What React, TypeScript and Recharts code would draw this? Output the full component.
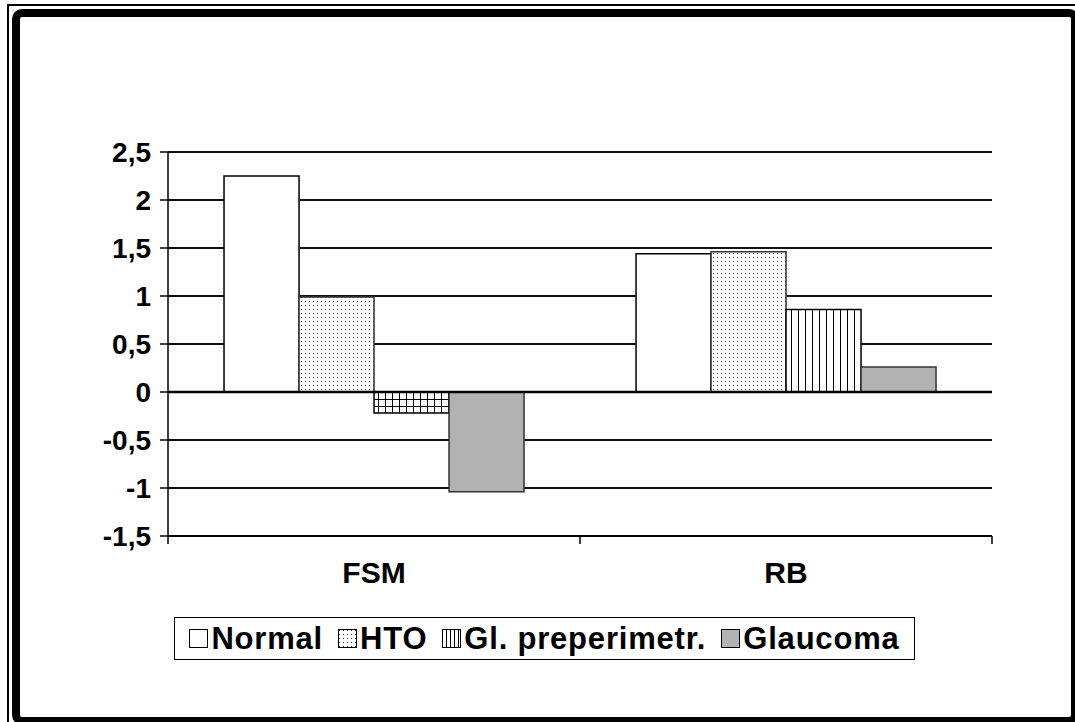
import React from "react";
import {
  Bar,
  BarChart,
  CartesianGrid,
  Cell,
  Legend,
  ReferenceLine,
  XAxis,
  YAxis,
} from "recharts";

const categories = ["FSM", "RB"];
const normal = [2.25, 1.44];
const hto = [0.99, 1.46];
const glPreperimetr = [-0.22, 0.86];
const glaucoma = [-1.04, 0.26];
const yTicks = [-1.5, -1, -0.5, 0, 0.5, 1, 1.5, 2, 2.5];

const WIDTH = 1075;
const HEIGHT = 722;
const PLOT_LEFT = 168;
const PLOT_RIGHT = 992;
const PLOT_TOP = 152;
const PLOT_BOTTOM = 536;
const Y_AXIS_W = 80;
const X_AXIS_H = 60;
const FONT = "'Liberation Sans', Arial, Helvetica, sans-serif";

const data = categories.map((name, i) => ({
  name,
  normal: normal[i],
  hto: hto[i],
  glPre: glPreperimetr[i],
  glaucoma: glaucoma[i],
}));

const series = [
  { key: "normal", label: "Normal", fill: "#ffffff", stroke: "#000" },
  { key: "hto", label: "HTO", fill: "url(#dots)", stroke: "#333" },
  { key: "glPre", label: "Gl. preperimetr.", fill: "url(#vlines)", stroke: "#000" },
  { key: "glaucoma", label: "Glaucoma", fill: "#b2b2b2", stroke: "#333" },
];

const fmt = (v: number) => String(v).replace(".", ",");

// category labels plus the small marks at the band boundaries
function CategoryTick(props: any) {
  const { x, y, payload, index } = props;
  const half = (PLOT_RIGHT - PLOT_LEFT) / categories.length / 2;
  const last = index === categories.length - 1;
  return (
    <g>
      <line x1={x - half} x2={x - half} y1={y} y2={y + 8} stroke="#000" strokeWidth={1.5} />
      {last && (
        <line x1={x + half} x2={x + half} y1={y} y2={y + 8} stroke="#000" strokeWidth={1.5} />
      )}
      <text
        x={x}
        y={y + 47}
        textAnchor="middle"
        fontFamily={FONT}
        fontWeight="bold"
        fontSize={30}
        fill="#000"
      >
        {payload.value}
      </text>
    </g>
  );
}

function LegendIcon({ fill }: { fill: string }) {
  return (
    <svg width={19} height={19} style={{ display: "block" }}>
      <rect x={0.5} y={0.5} width={18} height={18} fill={fill} stroke="#000" strokeWidth={1} />
    </svg>
  );
}

function LegendBox() {
  return (
    <div
      style={{
        boxSizing: "border-box",
        width: "100%",
        height: "100%",
        border: "1.5px solid #000",
        display: "flex",
        alignItems: "center",
        justifyContent: "center",
        fontFamily: FONT,
        fontWeight: "bold",
        fontSize: 31,
        letterSpacing: 0.8,
        color: "#000",
        whiteSpace: "nowrap",
      }}
    >
      {series.map((s, i) => (
        <div
          key={s.key}
          style={{ display: "flex", alignItems: "center", marginLeft: i === 0 ? 0 : 15 }}
        >
          <LegendIcon fill={s.key === "glPre" ? "url(#vlinesSmall)" : s.fill} />
          <span style={{ marginLeft: 3 }}>{s.label}</span>
        </div>
      ))}
    </div>
  );
}

export default function App() {
  return (
    <div
      style={{
        position: "absolute",
        left: 0,
        top: 0,
        width: WIDTH,
        height: HEIGHT,
        overflow: "hidden",
        background: "#fff",
      }}
    >
      {/* double frame around the whole figure */}
      <div
        style={{
          position: "absolute",
          left: 7,
          top: 4,
          width: 1100,
          height: 750,
          border: "2px solid #000",
        }}
      />
      <div
        style={{
          position: "absolute",
          left: 12,
          top: 9,
          width: 1067,
          height: 716,
          boxSizing: "border-box",
          border: "8px solid #000",
          borderRadius: 10,
        }}
      />
      <div style={{ position: "absolute", left: 0, top: 0 }}>
        <BarChart
          width={WIDTH}
          height={HEIGHT}
          data={data}
          barCategoryGap="13.6%"
          barGap={0}
          margin={{
            top: PLOT_TOP,
            right: WIDTH - PLOT_RIGHT,
            left: PLOT_LEFT - Y_AXIS_W,
            bottom: HEIGHT - PLOT_BOTTOM - X_AXIS_H,
          }}
        >
          <defs>
            <pattern id="dots" width={4} height={4} patternUnits="userSpaceOnUse">
              <rect width={4} height={4} fill="#fff" />
              <rect x={1} y={1} width={1} height={1} fill="#333" />
            </pattern>
            <pattern id="vlines" width={7} height={7} patternUnits="userSpaceOnUse">
              <rect width={7} height={7} fill="#fff" />
              <line x1={0.5} x2={0.5} y1={0} y2={7} stroke="#000" strokeWidth={1} />
            </pattern>
            <pattern id="vlinesSmall" width={4} height={4} patternUnits="userSpaceOnUse">
              <rect width={4} height={4} fill="#fff" />
              <line x1={0.5} x2={0.5} y1={0} y2={4} stroke="#000" strokeWidth={1} />
            </pattern>
            <pattern id="grid" width={7} height={7} patternUnits="userSpaceOnUse">
              <rect width={7} height={7} fill="#fff" />
              <line x1={0.5} x2={0.5} y1={0} y2={7} stroke="#000" strokeWidth={1} />
              <line x1={0} x2={7} y1={0.5} y2={0.5} stroke="#000" strokeWidth={1} />
            </pattern>
          </defs>
          <CartesianGrid vertical={false} stroke="#111" strokeWidth={1.8} />
          <XAxis
            dataKey="name"
            height={X_AXIS_H}
            axisLine={{ stroke: "#000", strokeWidth: 1.5 }}
            tickLine={false}
            tickSize={0}
            tickMargin={0}
            tick={<CategoryTick />}
            interval={0}
          />
          <YAxis
            width={Y_AXIS_W}
            domain={[-1.5, 2.5]}
            ticks={yTicks}
            interval={0}
            tickFormatter={fmt}
            axisLine={{ stroke: "#000", strokeWidth: 1.5 }}
            tickLine={{ stroke: "#000", strokeWidth: 1.5 }}
            tickSize={8}
            tickMargin={9}
            tick={{ fill: "#000", fontSize: 28, fontWeight: "bold", fontFamily: FONT }}
          />
          <YAxis
            yAxisId="frame"
            orientation="right"
            width={0}
            domain={[-1.5, 2.5]}
            tick={false}
            tickLine={false}
            axisLine={{ stroke: "#000", strokeWidth: 1.5 }}
          />
          {series.map((s) => (
            <Bar
              key={s.key}
              dataKey={s.key}
              name={s.label}
              fill={s.fill}
              stroke={s.stroke}
              strokeWidth={1.5}
              isAnimationActive={false}
            >
              {s.key === "glPre" &&
                data.map((d, i) => (
                  <Cell key={`cell-${i}`} fill={d.glPre < 0 ? "url(#grid)" : "url(#vlines)"} />
                ))}
            </Bar>
          ))}
          <ReferenceLine y={0} stroke="#000" strokeWidth={2.5} />
          <Legend
            layout="horizontal"
            verticalAlign="middle"
            align="center"
            wrapperStyle={{ left: 174, top: 617, width: 741, height: 43 }}
            content={<LegendBox />}
          />
        </BarChart>
      </div>
    </div>
  );
}
